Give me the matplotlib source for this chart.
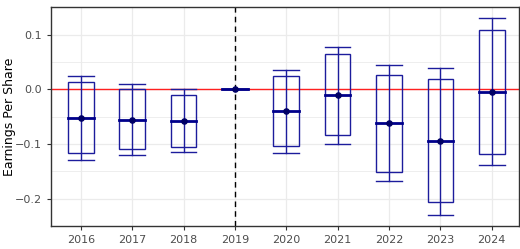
import matplotlib.pyplot as plt
import numpy as np

years = [2016, 2017, 2018, 2019, 2020, 2021, 2022, 2023, 2024]
whisk_hi = [0.025, 0.010, 0.000, 0.0, 0.036, 0.078, 0.045, 0.040, 0.131]
box_hi = [0.013, 0.000, -0.0095, 0.0, 0.024, 0.064, 0.027, 0.019, 0.109]
median = [-0.052, -0.055, -0.057, 0.0, -0.040, -0.010, -0.062, -0.094, -0.004]
box_lo = [-0.116, -0.109, -0.105, 0.0, -0.103, -0.084, -0.151, -0.206, -0.118]
whisk_lo = [-0.129, -0.120, -0.114, 0.0, -0.116, -0.099, -0.168, -0.229, -0.139]

fig = plt.figure(figsize=(5.2, 2.49), dpi=100)
ax = fig.add_axes([0.098, 0.092, 0.9, 0.878])

w = 0.25
col = '#1c1c9c'
for i, yr in enumerate(years):
    # whisker line and caps
    ax.plot([yr, yr], [whisk_lo[i], whisk_hi[i]], color=col, lw=1, zorder=3)
    ax.plot([yr - w, yr + w], [whisk_hi[i]] * 2, color=col, lw=1, zorder=3)
    ax.plot([yr - w, yr + w], [whisk_lo[i]] * 2, color=col, lw=1, zorder=3)
    # box
    ax.add_patch(plt.Rectangle((yr - w, box_lo[i]), 2 * w, box_hi[i] - box_lo[i],
                               fill=False, edgecolor=col, lw=1, zorder=3))
    ax.plot([yr - w, yr + w], [median[i]] * 2, color='#00008b', lw=2.0, zorder=4)
ax.scatter(years, median, s=14, color='#000066', zorder=5)

ax.axhline(0, color='#ff2020', lw=1, zorder=2)
ax.axvline(2019, color='black', lw=1, ls=(0, (4, 3)), zorder=2)

ax.set_xlim(2015.42, 2024.53)
ax.set_ylim(-0.246, 0.148)
ax.set_xticks(years)
ax.set_yticks([-0.2, -0.1, 0.0, 0.1])
ax.set_yticklabels(['\u22120.2', '\u22120.1', '0.0', '0.1'])
ax.set_yticks(np.arange(-0.25, 0.16, 0.05), minor=True)
ax.grid(True, which='major', color='#ebebeb', lw=0.9, zorder=0)
ax.grid(True, which='minor', axis='y', color='#ebebeb', lw=0.6, zorder=0)
ax.set_axisbelow(True)
ax.tick_params(axis='both', which='major', labelsize=8, labelcolor='#4d4d4d',
               color='#333333', length=3, width=0.8)
ax.tick_params(axis='both', which='minor', length=0)
for s in ax.spines.values():
    s.set_color('#333333')
    s.set_linewidth(1)
ax.set_ylabel('Earnings Per Share', fontsize=9, color='black')
ax.yaxis.set_label_coords(-0.075, 0.5)

fig.savefig('out.png', dpi=100)
